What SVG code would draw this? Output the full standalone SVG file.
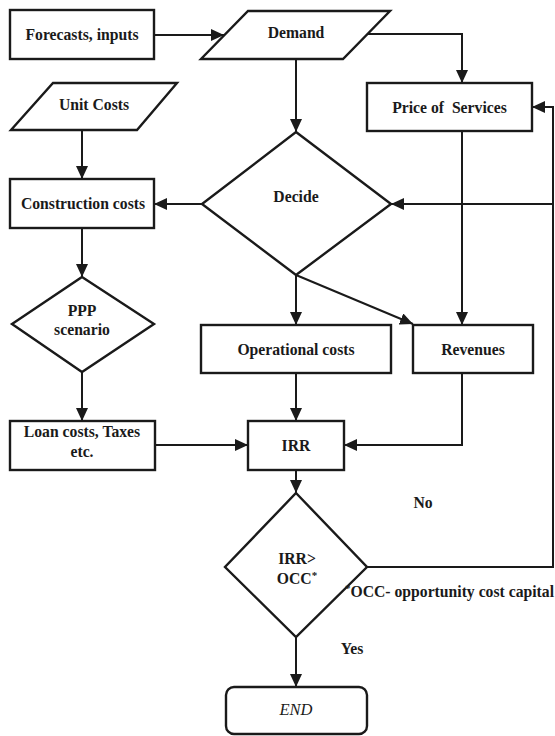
<svg xmlns="http://www.w3.org/2000/svg" width="555" height="736" viewBox="0 0 555 736">
<defs>
<marker id="ah" markerUnits="userSpaceOnUse" markerWidth="14" markerHeight="12" refX="13" refY="6" orient="auto">
<path d="M0,0 L13,6 L0,12 z" fill="#1a1a1a"/>
</marker>
<style>
.n{fill:#fff;stroke:#1a1a1a;stroke-width:2.4}
.c{fill:none;stroke:#1a1a1a;stroke-width:2;marker-end:url(#ah)}
text{font-family:"Liberation Serif","Times New Roman",serif;font-weight:bold;font-size:15.7px;fill:#1a1a1a;text-anchor:middle}
.s{font-size:11px}
</style>
</defs>
<rect width="555" height="736" fill="#fff"/>
<g id="connectors">
<path class="c" d="M154,35 H224"/>
<path class="c" d="M368,34 H462 V83"/>
<path class="c" d="M296,59 V132"/>
<path class="c" d="M82,130 V179"/>
<path class="c" d="M202,204 H154"/>
<path class="c" d="M367,567 H553 V107 H532"/>
<path class="c" d="M553,204 H391"/>
<path class="c" d="M82,228 V277"/>
<path class="c" d="M296,275 V325"/>
<path class="c" d="M296,275 L413,324"/>
<path class="c" d="M462,131 V325"/>
<path class="c" d="M82,372 V421"/>
<path class="c" d="M155,445 H248"/>
<path class="c" d="M296,373 V421"/>
<path class="c" d="M462,373 V445 H344"/>
<path class="c" d="M296,470 V493"/>
<path class="c" d="M296,637 V687"/>
</g>
<g id="forecasts">
<rect class="n" x="10" y="10" width="144" height="49"/>
<text x="82" y="40">Forecasts, inputs</text>
</g>
<g id="demand">
<polygon class="n" points="248,11 390,11 343,59 201,59"/>
<text x="296" y="38">Demand</text>
</g>
<g id="unit-costs">
<polygon class="n" points="53,83 177,83 137,130 11,130"/>
<text x="94" y="110">Unit Costs</text>
</g>
<g id="price">
<rect class="n" x="367" y="83" width="165" height="48"/>
<text x="449.5" y="113" xml:space="preserve">Price of  Services</text>
</g>
<g id="construction">
<rect class="n" x="10" y="179" width="144" height="49"/>
<text x="83" y="209">Construction costs</text>
</g>
<g id="decide">
<polygon class="n" points="296,132 391,204 296,275 202,204"/>
<text x="296" y="202">Decide</text>
</g>
<g id="ppp">
<polygon class="n" points="82,277 154,324 82,372 12,324"/>
<text x="82" y="316">PPP</text>
<text x="82" y="335">scenario</text>
</g>
<g id="operational">
<rect class="n" x="201" y="325" width="190" height="48"/>
<text x="296" y="355">Operational costs</text>
</g>
<g id="revenues">
<rect class="n" x="413" y="325" width="120" height="48"/>
<text x="473" y="355">Revenues</text>
</g>
<g id="loan">
<rect class="n" x="10" y="421" width="145" height="49"/>
<text x="82" y="437">Loan costs, Taxes</text>
<text x="82" y="457">etc.</text>
</g>
<g id="irr">
<rect class="n" x="248" y="421" width="96" height="49"/>
<text x="296" y="451">IRR</text>
</g>
<g id="irr-occ">
<polygon class="n" points="296,493 367,567 296,637 225,567"/>
<text x="297" y="564">IRR&gt;</text>
<text x="297" y="584">OCC<tspan class="s" dy="-5">*</tspan></text>
</g>
<g id="end">
<rect class="n" x="226" y="687" width="141" height="47" rx="8"/>
<text x="296" y="715" style="font-weight:normal;font-style:italic;font-size:16.5px">END</text>
</g>
<g id="labels">
<text x="423" y="508">No</text>
<text x="352" y="654">Yes</text>
<text x="345" y="597" style="text-anchor:start"><tspan class="s" dy="-5">*</tspan><tspan dy="5">OCC- opportunity cost capital</tspan></text>
</g>
</svg>
